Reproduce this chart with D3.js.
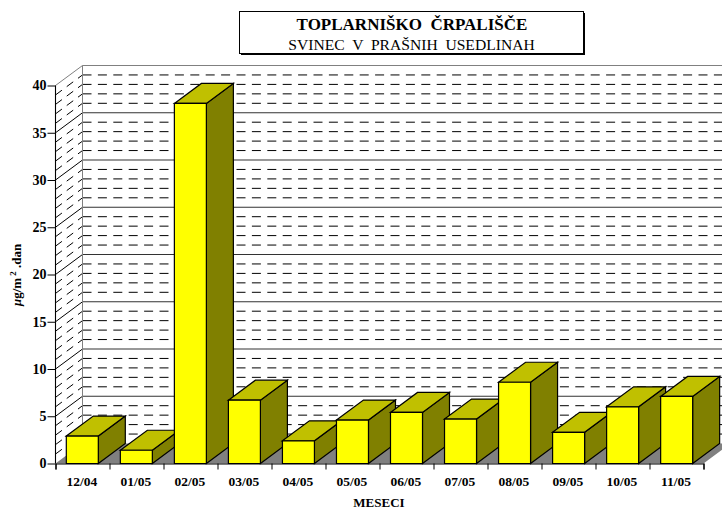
<!DOCTYPE html>
<html><head><meta charset="utf-8">
<script src="https://cdn.jsdelivr.net/npm/d3@7"></script>
<style>html,body{margin:0;padding:0;background:#fff;overflow:hidden}svg{display:block}text{font-family:"Liberation Serif",serif;fill:#000}</style>
</head><body><svg id="c" width="722" height="509"></svg>
<script>
const categories=["12/04","01/05","02/05","03/05","04/05","05/05","06/05","07/05","08/05","09/05","10/05","11/05"];
const values=[2.9,1.4,38.1,6.7,2.4,4.6,5.4,4.7,8.6,3.3,6.0,7.1];
const majorTicks=[0,5,10,15,20,25,30,35,40];
const minorTicks=d3.range(1,40).filter(v=>v%5!==0);
const titleLines=["TOPLARNIŠKO  ČRPALIŠČE","SVINEC  V  PRAŠNIH  USEDLINAH"];
const xTitle="MESECI";

const svg=d3.select("#c");
const W=722,H=509,dx=27,dy=-20;
const x=d3.scaleBand().domain(categories).range([55.5,703.5]).paddingInner(0.407).paddingOuter(0.2);
const y=d3.scaleLinear().domain([0,40]).range([463.5,85.5]);
const left=55.5,right=703.5;

const g=svg.append("g");
minorTicks.forEach(v=>{
  g.append("line").attr("x1",left+dx).attr("x2",W+10).attr("y1",y(v)+dy).attr("y2",y(v)+dy)
    .attr("stroke","#000").attr("stroke-width",1).attr("stroke-dasharray","9 6.4");
  g.append("line").attr("x1",left).attr("x2",left+dx).attr("y1",y(v)).attr("y2",y(v)+dy)
    .attr("stroke","#000").attr("stroke-width",1).attr("stroke-dasharray","8 6");
});
majorTicks.forEach(v=>{
  if(v===0)return;
  g.append("line").attr("x1",left+dx).attr("x2",W+10).attr("y1",y(v)+dy).attr("y2",y(v)+dy)
    .attr("stroke",v===40?"#808080":"#333").attr("stroke-width",1.2);
  g.append("line").attr("x1",left).attr("x2",left+dx).attr("y1",y(v)).attr("y2",y(v)+dy)
    .attr("stroke",v===40?"#808080":"#000").attr("stroke-width",1);
});
g.append("line").attr("x1",left+dx).attr("x2",left+dx).attr("y1",y(0)+dy).attr("y2",y(40)+dy).attr("stroke","#808080");
g.append("path").attr("d",d3.line()([[left,y(0)],[right,y(0)],[right+dx,y(0)+dy],[left+dx,y(0)+dy]])+"Z").attr("fill","#808080");

const bars=svg.append("g").selectAll("g").data(categories.map((c,i)=>({c,v:values[i]}))).join("g");
const st=s=>s.attr("stroke","#000").attr("stroke-width",1.2).attr("stroke-linejoin","miter");
bars.each(function(d){
  const s=d3.select(this),x0=x(d.c),x1=x0+32,t=y(d.v),b=y(0);
  const poly=(pts,f)=>s.append("path").attr("d",d3.line()(pts)+"Z").attr("fill",f).call(st);
  poly([[x1,t],[x1+dx,t+dy],[x1+dx,b+dy],[x1,b]],"#808000");
  poly([[x0,t],[x0+dx,t+dy],[x1+dx,t+dy],[x1,t]],"#c0c000");
  poly([[x0,t],[x1,t],[x1,b],[x0,b]],"#ffff00");
});

const yAxis=d3.axisLeft(y).tickValues(majorTicks).tickSize(8).tickPadding(1);
const ya=svg.append("g").attr("transform",`translate(${left},0)`).call(yAxis);
ya.selectAll("text").attr("font-size",14).attr("font-weight","bold").style("font-family",'"Liberation Serif",serif');
ya.selectAll("line").attr("stroke","#000");
ya.select(".domain").attr("stroke","#000").attr("stroke-width",1.1).attr("d",`M0,${y(40)}V${y(0)}`);

const tickScale=d3.scaleLinear().domain([0,12]).range([left,right]);
const xa=svg.append("g").attr("transform",`translate(0,${y(0)})`).call(d3.axisBottom(tickScale).tickValues(d3.range(0,13)).tickSize(6).tickFormat(""));
xa.select(".domain").attr("stroke","#000").attr("stroke-width",1.2);
xa.selectAll("line").attr("stroke","#000");
svg.append("g").selectAll("text").data(categories).join("text")
  .attr("x",(d,i)=>tickScale(i+0.5)-0.5).attr("y",486).attr("text-anchor","middle")
  .attr("font-size",13.5).attr("font-weight","bold").text(d=>d);
svg.append("text").attr("x",379).attr("y",507).attr("text-anchor","middle").attr("font-size",13).attr("font-weight","bold").text(xTitle);

const yt=svg.append("text").attr("transform","translate(21,275) rotate(-90)").attr("text-anchor","middle").attr("font-size",13).attr("font-weight","bold");
yt.append("tspan").attr("font-style","italic").text("µ");
yt.append("tspan").text("g/m");
yt.append("tspan").attr("font-size",9).attr("dy",-5).text(" 2");
yt.append("tspan").attr("dy",5).text(" .dan");

svg.append("rect").attr("x",241).attr("y",13).attr("width",344).attr("height",42).attr("fill","#000");
svg.append("rect").attr("x",239.5).attr("y",11.5).attr("width",344).attr("height",42).attr("fill","#fff").attr("stroke","#000");
svg.append("text").attr("x",412).attr("y",30).attr("text-anchor","middle").attr("font-size",17).attr("font-weight","bold").style("white-space","pre").text(titleLines[0]);
svg.append("text").attr("x",411.5).attr("y",49.5).attr("text-anchor","middle").attr("font-size",15.6).style("white-space","pre").text(titleLines[1]);
</script></body></html>
